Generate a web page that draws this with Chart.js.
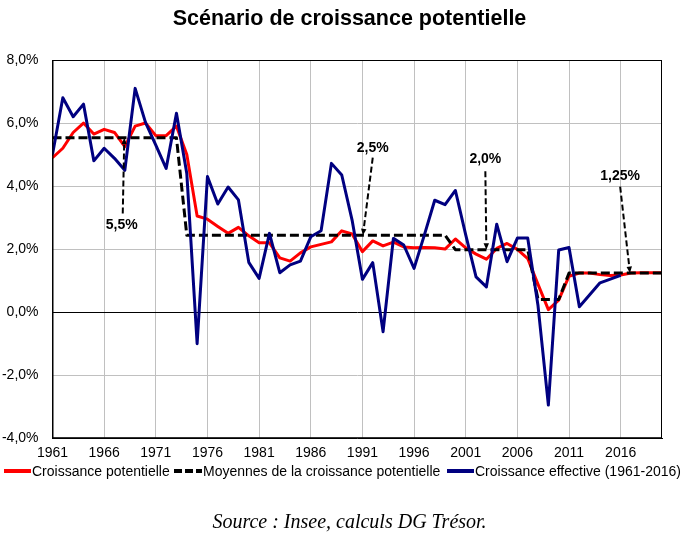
<!DOCTYPE html>
<html lang="fr">
<head>
<meta charset="utf-8">
<title>Scénario de croissance potentielle</title>
<script src="https://cdn.jsdelivr.net/npm/chart.js@4.4.1/dist/chart.umd.min.js"></script>
<style>
  html, body { margin: 0; padding: 0; background: #fff; }
  #wrap { position: relative; width: 687px; height: 536px; font-family: "Liberation Sans", Arial, sans-serif; color: #000; }
  #chartBox { position: absolute; left: 0; top: 0; width: 687px; height: 536px; }
  #title { position: absolute; left: 6px; top: 5px; width: 687px; text-align: center; font-weight: bold; font-size: 21.5px; line-height: 27px; }
  .leg { position: absolute; top: 462px; height: 18px; display: flex; align-items: center; font-size: 14px; line-height: 18px; white-space: nowrap; }
  .leg svg { display: block; margin-right: 1px; }
  #source { position: absolute; left: 6px; top: 509px; width: 687px; text-align: center; font-family: "Liberation Serif", "DejaVu Serif", serif; font-style: italic; font-size: 20px; line-height: 24px; }
</style>
</head>
<body>
<div id="wrap">
  <div id="chartBox"><canvas id="chart"></canvas></div>
  <div id="title">Scénario de croissance potentielle</div>
  <div class="leg" style="left:4px"><svg width="27" height="8"><line x1="0" y1="4" x2="27" y2="4" stroke="#ff0000" stroke-width="4"/></svg>Croissance potentielle</div>
  <div class="leg" style="left:174px"><svg width="28" height="8"><line x1="0" y1="4" x2="28" y2="4" stroke="#000" stroke-width="4" stroke-dasharray="8,3"/></svg>Moyennes de la croissance potentielle</div>
  <div class="leg" style="left:447px"><svg width="27" height="8"><line x1="0" y1="4" x2="27" y2="4" stroke="#000080" stroke-width="4"/></svg>Croissance effective (1961-2016)</div>
  <div id="source">Source : Insee, calculs DG Trésor.</div>
</div>
<script>
// years on the x axis (1961 to 2020)
const years = [
  1961, 1962, 1963, 1964, 1965, 1966, 1967, 1968, 1969, 1970,
  1971, 1972, 1973, 1974, 1975, 1976, 1977, 1978, 1979, 1980,
  1981, 1982, 1983, 1984, 1985, 1986, 1987, 1988, 1989, 1990,
  1991, 1992, 1993, 1994, 1995, 1996, 1997, 1998, 1999, 2000,
  2001, 2002, 2003, 2004, 2005, 2006, 2007, 2008, 2009, 2010,
  2011, 2012, 2013, 2014, 2015, 2016, 2017, 2018, 2019, 2020
];

// croissance potentielle (%), 1961-2020
const potentielle = [
  4.9, 5.2, 5.7, 6.0, 5.65, 5.8, 5.7, 5.25, 5.9, 6.0,
  5.6, 5.6, 5.9, 5.0, 3.05, 2.95, 2.72, 2.5, 2.69, 2.42,
  2.2, 2.2, 1.72, 1.62, 1.88, 2.07, 2.15, 2.23, 2.58, 2.48,
  1.92, 2.26, 2.1, 2.22, 2.07, 2.04, 2.05, 2.04, 2.0, 2.32,
  2.04, 1.84, 1.68, 2.02, 2.18, 1.99, 1.7, 0.88, 0.08, 0.38,
  1.14, 1.24, 1.24, 1.19, 1.16, 1.18, 1.24, 1.25, 1.25, 1.25
];

// moyennes par période de la croissance potentielle (%), 1961-2020
const moyennes = [
  5.53, 5.53, 5.53, 5.53, 5.53, 5.53, 5.53, 5.53, 5.53, 5.53,
  5.53, 5.53, 5.53, 2.44, 2.44, 2.44, 2.44, 2.44, 2.44, 2.44,
  2.44, 2.44, 2.44, 2.44, 2.44, 2.44, 2.44, 2.44, 2.44, 2.44,
  2.44, 2.44, 2.44, 2.44, 2.44, 2.44, 2.44, 2.44, 2.44, 1.98,
  1.98, 1.98, 1.98, 1.98, 1.98, 1.98, 1.98, 0.4, 0.4, 0.4,
  1.24, 1.24, 1.24, 1.24, 1.24, 1.24, 1.24, 1.24, 1.24, 1.24
];

// croissance effective (%), 1961-2016
const effective = [
  5.0, 6.8, 6.2, 6.6, 4.8, 5.2, 4.88, 4.5, 7.1, 6.02,
  5.3, 4.56, 6.31, 4.4, -1.0, 4.3, 3.43, 3.97, 3.56, 1.58,
  1.07, 2.5, 1.25, 1.5, 1.62, 2.39, 2.58, 4.72, 4.35, 2.92,
  1.04, 1.57, -0.62, 2.34, 2.13, 1.39, 2.45, 3.55, 3.41, 3.86,
  2.45, 1.12, 0.8, 2.79, 1.6, 2.35, 2.35, 0.2, -2.95, 1.97,
  2.05, 0.17, 0.55, 0.93, 1.05, 1.17
];

const xTicks = [1961, 1966, 1971, 1976, 1981, 1986, 1991, 1996, 2001, 2006, 2011, 2016];
const yTicks = [-4, -2, 0, 2, 4, 6, 8];

// annotation labels with their dashed arrows (year, % units)
const callouts = [
  { text: '5,5%', labelX: 1967.7, labelY: 2.75, fromX: 1967.8, fromY: 3.13, toX: 1967.95, toY: 5.53 },
  { text: '2,5%', labelX: 1992.0, labelY: 5.2, fromX: 1992.0, fromY: 4.9, toX: 1991.05, toY: 2.44 },
  { text: '2,0%', labelX: 2002.9, labelY: 4.85, fromX: 2002.9, fromY: 4.47, toX: 2003.0, toY: 1.98 },
  { text: '1,25%', labelX: 2015.95, labelY: 4.3, fromX: 2015.95, fromY: 3.98, toX: 2016.9, toY: 1.24 }
];

const toPoints = (vals) => vals.map((v, i) => ({ x: years[i], y: v }));

// black frame around the plot area
const frame = {
  id: 'frame',
  afterDatasetsDraw(chart) {
    const { ctx, chartArea: a } = chart;
    ctx.save();
    ctx.strokeStyle = '#000';
    ctx.lineWidth = 1;
    ctx.strokeRect(a.left + 0.5, a.top + 0.5, a.right - a.left - 1, a.bottom - a.top - 1);
    ctx.restore();
  }
};

// dashed arrows pointing at each period average
const arrows = {
  id: 'arrows',
  afterDatasetsDraw(chart) {
    const { ctx, scales: { x, y } } = chart;
    ctx.save();
    callouts.forEach(c => {
      const x0 = x.getPixelForValue(c.fromX), y0 = y.getPixelForValue(c.fromY);
      const x1 = x.getPixelForValue(c.toX), y1 = y.getPixelForValue(c.toY);
      const ang = Math.atan2(y1 - y0, x1 - x0);
      const head = 7;
      ctx.strokeStyle = '#000';
      ctx.lineWidth = 2;
      ctx.setLineDash([6, 3]);
      ctx.beginPath();
      ctx.moveTo(x0, y0);
      ctx.lineTo(x1 - Math.cos(ang) * head, y1 - Math.sin(ang) * head);
      ctx.stroke();
      ctx.setLineDash([]);
      ctx.fillStyle = '#000';
      ctx.beginPath();
      ctx.moveTo(x1, y1);
      ctx.lineTo(x1 - head * Math.cos(ang - 0.4), y1 - head * Math.sin(ang - 0.4));
      ctx.lineTo(x1 - head * Math.cos(ang + 0.4), y1 - head * Math.sin(ang + 0.4));
      ctx.closePath();
      ctx.fill();

      ctx.font = 'bold 14px "Liberation Sans", Arial, sans-serif';
      ctx.textAlign = 'center';
      ctx.textBaseline = 'middle';
      ctx.fillText(c.text, x.getPixelForValue(c.labelX), y.getPixelForValue(c.labelY));
    });
    ctx.restore();
  }
};

new Chart(document.getElementById('chart'), {
  type: 'line',
  data: {
    datasets: [
      {
        label: 'Croissance potentielle',
        data: toPoints(potentielle),
        borderColor: '#ff0000',
        borderWidth: 3,
        order: 3
      },
      {
        label: 'Moyennes de la croissance potentielle',
        data: toPoints(moyennes),
        borderColor: '#000000',
        borderWidth: 3,
        borderDash: [9, 4],
        order: 2
      },
      {
        label: 'Croissance effective (1961-2016)',
        data: toPoints(effective),
        borderColor: '#000080',
        borderWidth: 3,
        order: 1
      }
    ]
  },
  options: {
    responsive: true,
    maintainAspectRatio: false,
    animation: false,
    layout: { padding: { top: 60, left: 2, right: 25, bottom: 67 } },
    elements: {
      point: { radius: 0, hoverRadius: 0 },
      line: { tension: 0, fill: false, borderJoinStyle: 'round' }
    },
    plugins: {
      legend: { display: false },
      title: { display: false },
      tooltip: { enabled: false }
    },
    scales: {
      x: {
        type: 'linear',
        min: 1961,
        max: 2020,
        afterBuildTicks: (axis) => { axis.ticks = xTicks.map(v => ({ value: v })); },
        afterFit: (axis) => { axis.paddingLeft = 0; axis.paddingRight = 0; },
        grid: { color: '#c0c0c0', lineWidth: 1, drawTicks: false },
        border: { color: '#000', width: 1 },
        ticks: {
          autoSkip: false,
          maxRotation: 0,
          padding: 7,
          color: '#000',
          font: { family: '"Liberation Sans", Arial, sans-serif', size: 14 },
          callback: (v) => String(v)
        }
      },
      y: {
        min: -4,
        max: 8,
        afterBuildTicks: (axis) => { axis.ticks = yTicks.map(v => ({ value: v })); },
        afterFit: (axis) => { axis.width = 50.5; },
        grid: {
          color: (ctx) => (ctx.tick && ctx.tick.value === 0 ? '#000' : '#c0c0c0'),
          lineWidth: 1,
          drawTicks: false
        },
        border: { color: '#000', width: 1 },
        ticks: {
          padding: 14,
          color: '#000',
          font: { family: '"Liberation Sans", Arial, sans-serif', size: 14 },
          callback: (v) => v.toFixed(1).replace('.', ',') + '%'
        }
      }
    }
  },
  plugins: [frame, arrows]
});
</script>
</body>
</html>
